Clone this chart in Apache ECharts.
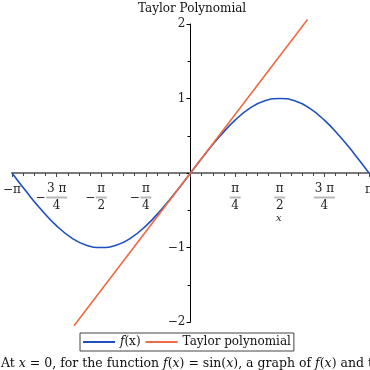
<!DOCTYPE html>
<html><head><meta charset="utf-8">
<script src="https://cdn.jsdelivr.net/npm/echarts@6/dist/echarts.min.js"></script>
<style>html,body{margin:0;padding:0;background:#fff}#c{width:370px;height:370px}</style>
</head><body><div id="c"></div>
<script>
const titleText = 'Taylor Polynomial';
const seriesNames = ['f(x)', 'Taylor polynomial'];
const sinX = [-3.1416,-2.880,-2.618,-2.356,-2.094,-1.833,-1.571,-1.309,-1.047,-0.785,-0.524,-0.262,0,0.262,0.524,0.785,1.047,1.309,1.571,1.833,2.094,2.356,2.618,2.880,3.1416];
const sinY = [0,-0.26,-0.50,-0.71,-0.87,-0.97,-1.00,-0.97,-0.87,-0.71,-0.50,-0.26,0,0.26,0.50,0.71,0.87,0.97,1.00,0.97,0.87,0.71,0.50,0.26,0];
const taylorX = [-2.05, 2.06];
const taylorY = [-2.05, 2.06];
const yTicks = [-2, -1, 0, 1, 2];
const xTickLabels = {'-4':'−π','-3':'−3π/4','-2':'−π/2','-1':'−π/4','1':'π/4','2':'π/2','3':'3π/4','4':'π'};

const FONT = 'DejaVu Serif';
const W = 370, H = 370;
const G = {left: 12, right: 1, top: 24, bottom: 48};
const xMin = -Math.PI, xMax = Math.PI, yMin = yTicks[0], yMax = yTicks[yTicks.length - 1];
const gridW = W - G.left - G.right, gridH = H - G.top - G.bottom;
const xAxisOffset = -gridH * (0 - yMin) / (yMax - yMin);
const yAxisOffset = -gridW * (0 - xMin) / (xMax - xMin);

const chart = echarts.init(document.getElementById('c'));

function xLabel(v) {
  const k = Math.round(v / (Math.PI / 4));
  const s = xTickLabels[String(k)];
  if (!s) return '';
  const neg = s[0] === '−';
  const body = neg ? s.slice(1) : s;
  if (body.indexOf('/') < 0) return '{p|' + s + '}';
  const [num, den] = body.split('/');
  const wide = num.length > 1;
  const n = wide ? 'n3' : 'n1', b = wide ? 'b3' : 'b1';
  const numTxt = wide ? num[0] + ' ' + num.slice(1) : num;
  if (neg) {
    return '{g|}{' + n + '|' + numTxt + '}{g|}\n{m|−}{' + b + '|}{h|}\n{g|}{' + n + '|' + den + '}{g|}';
  }
  return '{' + n + '|' + numTxt + '}\n{' + b + '|}\n{' + n + '|' + den + '}';
}

const richX = {
  p: {fontFamily: FONT, fontSize: 12, color: '#222', lineHeight: 13},
  n1: {fontFamily: FONT, fontSize: 12, color: '#222', width: 11, align: 'center', lineHeight: 12},
  n3: {fontFamily: FONT, fontSize: 12, color: '#222', width: 21, align: 'center', lineHeight: 12},
  b1: {width: 11, height: 2, lineHeight: 5, backgroundColor: '#b8b8b8'},
  b3: {width: 21, height: 2, lineHeight: 5, backgroundColor: '#b8b8b8'},
  m: {fontFamily: FONT, fontSize: 12, color: '#222', width: 11, lineHeight: 5},
  g: {width: 11, lineHeight: 12},
  h: {width: 11, lineHeight: 5}
};

chart.setOption({
  animation: false,
  backgroundColor: '#fff',
  title: {text: titleText, left: 133, top: -2,
    textStyle: {fontFamily: FONT, fontSize: 12, fontWeight: 'normal', color: '#111'}},
  grid: {left: G.left, right: G.right, top: G.top, bottom: G.bottom, containLabel: false, outerBoundsMode: 'none'},
  legend: {
    data: seriesNames, left: 80, top: 333, orient: 'horizontal', icon: 'rect',
    itemWidth: 32, itemHeight: 2, itemGap: 5, padding: [3, 3],
    borderColor: '#444', borderWidth: 1, backgroundColor: '#fff',
    formatter: function (name) { return name === 'f(x)' ? '{i|f}{r|(x)}' : '{r|' + name + '}'; },
    textStyle: {fontFamily: FONT, fontSize: 12, color: '#111',
      rich: {i: {fontFamily: FONT, fontSize: 12, fontStyle: 'italic', color: '#111'},
             r: {fontFamily: FONT, fontSize: 12, color: '#111'}}}
  },
  xAxis: {
    type: 'value', min: xMin, max: xMax, interval: Math.PI / 4, position: 'bottom', offset: xAxisOffset,
    axisLine: {onZero: false, lineStyle: {color: '#7a7a7a', width: 2}},
    axisTick: {show: true, length: 4, lineStyle: {color: '#444'}},
    minorTick: {show: true, splitNumber: 4, length: 3, lineStyle: {color: '#444'}},
    splitLine: {show: false},
    axisLabel: {show: true, margin: 10, formatter: xLabel, rich: richX, hideOverlap: false,
      showMinLabel: true, showMaxLabel: true, fontFamily: FONT, fontSize: 12, color: '#222'}
  },
  yAxis: {
    type: 'value', min: yMin, max: yMax, interval: 1, position: 'left', offset: yAxisOffset,
    axisLine: {onZero: false, lineStyle: {color: '#000', width: 1}},
    axisTick: {show: true, length: 4, lineStyle: {color: '#000'}},
    minorTick: {show: true, splitNumber: 2, length: 3, lineStyle: {color: '#000'}},
    splitLine: {show: false},
    axisLabel: {margin: 5, fontFamily: FONT, fontSize: 12, color: '#222',
      formatter: function (v) { return v === 0 ? '' : (v < 0 ? '−' + (-v) : String(v)); }}
  },
  series: [
    {name: seriesNames[0], type: 'line', smooth: true, symbol: 'none',
      data: sinX.map((x, i) => [x, sinY[i]]),
      lineStyle: {color: '#1f4fbf', width: 1.6}, itemStyle: {color: '#1f4fbf'}, z: 2},
    {name: seriesNames[1], type: 'line', symbol: 'none', clip: false,
      data: taylorX.map((x, i) => [x, taylorY[i]]),
      lineStyle: {color: '#ee6a42', width: 1.6}, itemStyle: {color: '#ee6a42'}, z: 3}
  ],
  graphic: [
    {type: 'text', left: 276, top: 213,
      style: {text: 'x', fontFamily: FONT, fontSize: 10, fontStyle: 'italic', fill: '#222'}},
    {type: 'text', left: 1, top: 357,
      style: {text: 'At {i|x} = 0, for the function {i|f}({i|x}) = sin({i|x}), a graph of {i|f}({i|x}) and the Taylor polynomial',
        fontFamily: FONT, fontSize: 12.5, fill: '#111',
        rich: {i: {fontFamily: FONT, fontSize: 12.5, fontStyle: 'italic', fill: '#111', color: '#111'}}}}
  ]
});
</script></body></html>
